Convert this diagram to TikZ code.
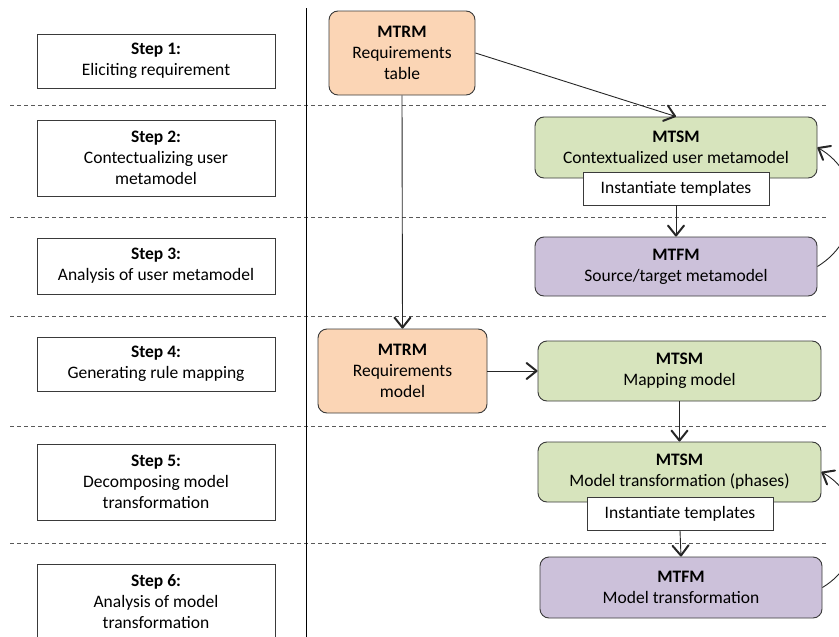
\documentclass[tikz,border=0pt]{standalone}
\usepackage{fontspec}
\setmainfont{Carlito}
\usetikzlibrary{arrows.meta}
\definecolor{peach}{HTML}{FBD5B5}
\definecolor{sage}{HTML}{D7E4BD}
\definecolor{lilac}{HTML}{CCC1DA}
\definecolor{edge}{HTML}{3A3A3A}
\tikzset{
  stepbox/.style={draw=edge, line width=0.9pt, fill=white, minimum width=238pt, align=center, inner sep=0pt, font=\fontsize{17.5}{21}\selectfont},
  modelbox/.style={draw=edge, line width=0.9pt, rounded corners=9pt, align=center, inner sep=0pt, font=\fontsize{17.5}{21}\selectfont},
  tplbox/.style={draw=edge, line width=0.9pt, fill=white, minimum width=186pt, minimum height=33pt, inner sep=0pt, font=\fontsize{17.5}{20}\selectfont},
  sep/.style={draw=black!65, line width=0.8pt, dash pattern=on 4pt off 3pt},
  arr/.style={draw=black!85, line width=0.9pt, -{Straight Barb[length=10pt,width=16pt,line width=2pt,round]}},
}
\begin{document}
\begin{tikzpicture}[x=1pt,y=-1pt]
\useasboundingbox (0,0) rectangle (839,637);
\clip (0,0) rectangle (839,637);
% separators
\foreach \yy in {105,217,316,426,543} \draw[sep] (10,\yy) -- (828,\yy);
\draw[black, line width=1pt] (306,8) -- (306,640);
% step boxes
\node[stepbox, minimum height=54pt] (s1) at (156,61) {\textbf{Step 1:}\\Eliciting requirement};
\node[stepbox, minimum height=76pt] (s2) at (156,158) {\textbf{Step 2:}\\Contectualizing user\\metamodel};
\node[stepbox, minimum height=56pt] (s3) at (156,266) {\textbf{Step 3:}\\Analysis of user metamodel};
\node[stepbox, minimum height=54pt] (s4) at (156,364) {\textbf{Step 4:}\\Generating rule mapping};
\node[stepbox, minimum height=76pt] (s5) at (156,482) {\textbf{Step 5:}\\Decomposing model\\transformation};
\node[stepbox, minimum height=76pt] (s6) at (156,602) {\textbf{Step 6:}\\Analysis of model\\transformation};
% model boxes
\node[modelbox, fill=peach, minimum width=146pt, minimum height=84pt] (rt) at (402,53) {\textbf{MTRM}\\Requirements\\table};
\node[modelbox, fill=sage, minimum width=282pt, minimum height=61pt] (c1) at (676,147.5) {\textbf{MTSM}\\Contextualized user metamodel};
\node[tplbox] (i1) at (676,188.5) {Instantiate templates};
\node[modelbox, fill=lilac, minimum width=282pt, minimum height=59pt] (f1) at (676,266.5) {\textbf{MTFM}\\Source/target metamodel};
\node[modelbox, fill=peach, minimum width=169pt, minimum height=84pt] (rm) at (402.5,371) {\textbf{MTRM}\\Requirements\\model};
\node[modelbox, fill=sage, minimum width=283pt, minimum height=60pt] (c2) at (679.5,371) {\textbf{MTSM}\\Mapping model};
\node[modelbox, fill=sage, minimum width=283pt, minimum height=60pt] (c3) at (679.5,472) {\textbf{MTSM}\\Model transformation (phases)};
\node[tplbox] (i2) at (680,513.5) {Instantiate templates};
\node[modelbox, fill=lilac, minimum width=282pt, minimum height=61pt] (f2) at (681,587.5) {\textbf{MTFM}\\Model transformation};
% connectors
\draw[arr] (rt.east) -- (c1.north);
\draw[arr] (rt.south) -- (rm.north);
\draw[arr] (i1.south) -- (f1.north);
\draw[arr] (rm.east) -- (c2.west);
\draw[arr] (c2.south) -- (c3.north);
\draw[arr] (i2.south) -- (f2.north);
\draw[arr] (f1.east) .. controls (864,238) and (864,174) .. (c1.east);
\draw[arr] (f2.east) .. controls (868,560) and (867,498) .. (c3.east);
\end{tikzpicture}
\end{document}
